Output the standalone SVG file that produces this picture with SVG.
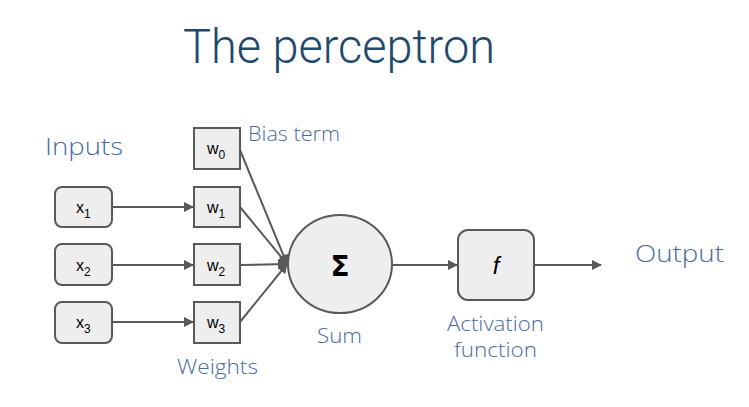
<svg xmlns="http://www.w3.org/2000/svg" width="749" height="407" viewBox="0 0 749 407">
<defs>
<style>
.box{fill:#eeeeee;stroke:#595959;stroke-width:2}
.lbl{font-family:"Liberation Sans",Arial,sans-serif;font-size:16px;fill:#000}
.sub{font-size:12px}
.cap{font-family:"Open Sans","Noto Sans",sans-serif;font-weight:300;fill:#4a6aa5}
.edge{stroke:#595959;stroke-width:2;fill:none}
</style>
<marker id="ah" viewBox="0 0 10 10" refX="9" refY="5" markerWidth="5" markerHeight="5" orient="auto" markerUnits="strokeWidth">
<path d="M0,0 L10,5 L0,10 z" fill="#595959"/>
</marker>
</defs>
<rect width="749" height="407" fill="#ffffff"/>
<text x="183" y="63" font-family="Roboto,sans-serif" font-weight="300" font-size="48" fill="#1f4a6d" textLength="312" lengthAdjust="spacingAndGlyphs">The perceptron</text>
<text class="cap" x="45" y="155" font-size="24" textLength="78" lengthAdjust="spacingAndGlyphs">Inputs</text>
<text class="cap" x="248" y="141" font-size="20" textLength="92" lengthAdjust="spacingAndGlyphs">Bias term</text>
<text class="cap" x="177" y="374" font-size="20" textLength="81" lengthAdjust="spacingAndGlyphs">Weights</text>
<text class="cap" x="317" y="343" font-size="20" textLength="45" lengthAdjust="spacingAndGlyphs">Sum</text>
<text class="cap" x="447" y="331" font-size="20" textLength="97" lengthAdjust="spacingAndGlyphs">Activation</text>
<text class="cap" x="454" y="357" font-size="20" textLength="83" lengthAdjust="spacingAndGlyphs">function</text>
<text class="cap" x="635" y="262" font-size="24" textLength="89" lengthAdjust="spacingAndGlyphs">Output</text>
<g id="connectors">
<line class="edge" x1="112" y1="207" x2="193" y2="207" marker-end="url(#ah)"/>
<line class="edge" x1="112" y1="265" x2="193" y2="265" marker-end="url(#ah)"/>
<line class="edge" x1="112" y1="322" x2="193" y2="322" marker-end="url(#ah)"/>
<line class="edge" x1="240" y1="150" x2="287" y2="264" marker-end="url(#ah)"/>
<line class="edge" x1="240" y1="207" x2="287" y2="264" marker-end="url(#ah)"/>
<line class="edge" x1="240" y1="265" x2="287" y2="264" marker-end="url(#ah)"/>
<line class="edge" x1="240" y1="322" x2="287" y2="264" marker-end="url(#ah)"/>
<line class="edge" x1="393" y1="265" x2="457" y2="265" marker-end="url(#ah)"/>
<line class="edge" x1="534" y1="265" x2="601" y2="265" marker-end="url(#ah)"/>
</g>
<g id="x1"><rect class="box" x="55" y="187" width="57" height="40" rx="7"/><text class="lbl" x="76" y="213">x<tspan class="sub" dy="5">1</tspan></text></g>
<g id="x2"><rect class="box" x="55" y="244" width="57" height="41" rx="7"/><text class="lbl" x="76" y="271">x<tspan class="sub" dy="5">2</tspan></text></g>
<g id="x3"><rect class="box" x="55" y="302" width="57" height="41" rx="7"/><text class="lbl" x="76" y="328">x<tspan class="sub" dy="5">3</tspan></text></g>
<g id="w0"><rect class="box" x="194" y="128" width="46" height="41"/><text class="lbl" x="207" y="154">w<tspan class="sub" dy="5">0</tspan></text></g>
<g id="w1"><rect class="box" x="194" y="187" width="46" height="40"/><text class="lbl" x="207" y="213">w<tspan class="sub" dy="5">1</tspan></text></g>
<g id="w2"><rect class="box" x="194" y="244" width="46" height="41"/><text class="lbl" x="207" y="271">w<tspan class="sub" dy="5">2</tspan></text></g>
<g id="w3"><rect class="box" x="194" y="302" width="46" height="41"/><text class="lbl" x="207" y="328">w<tspan class="sub" dy="5">3</tspan></text></g>
<g id="sum"><ellipse class="box" cx="340" cy="264" rx="52" ry="49"/><text x="340" y="276" text-anchor="middle" font-family="'DejaVu Sans',sans-serif" font-weight="bold" font-size="28" fill="#000">Σ</text></g>
<g id="activation"><rect class="box" x="458" y="230" width="76" height="70" rx="10"/><text x="496" y="274" text-anchor="middle" font-family="'Liberation Sans',Arial,sans-serif" font-style="italic" font-size="24" fill="#000">f</text></g>
</svg>
